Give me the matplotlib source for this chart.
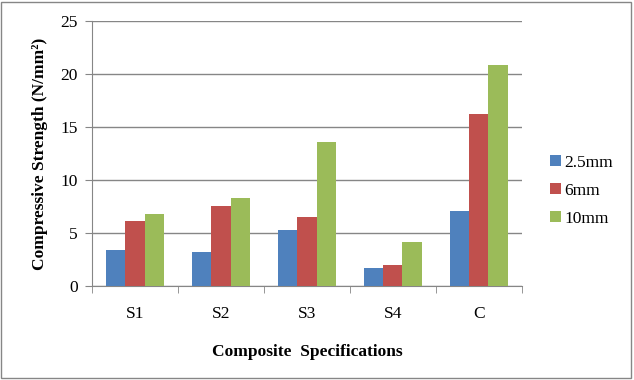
import matplotlib.pyplot as plt
import numpy as np
from matplotlib.patches import Rectangle

categories = ["S1", "S2", "S3", "S4", "C"]
series_names = ["2.5mm", "6mm", "10mm"]
v_25 = [3.4, 3.2, 5.3, 1.7, 7.1]
v_6 = [6.15, 7.55, 6.5, 2.0, 16.2]
v_10 = [6.8, 8.3, 13.6, 4.15, 20.85]
colors = ["#4F81BD", "#C0504D", "#9BBB59"]

plt.rcParams['font.family'] = ['Liberation Serif', 'DejaVu Serif']

fig = plt.figure(figsize=(6.34, 3.8), dpi=100)
ax = fig.add_axes([0.145, 0.247, 0.678, 0.698])

x = np.arange(len(categories))
w = 0.225
for i, (vals, name) in enumerate(zip([v_25, v_6, v_10], series_names)):
    ax.bar(x + (i - 1) * w, vals, w, color=colors[i], label=name, zorder=3)

ax.set_xlim(-0.5, len(categories) - 0.5)
ax.set_ylim(0, 25)
ax.set_yticks(range(0, 26, 5))
ax.set_xticks(x)
ax.set_xticklabels(categories)
ax.set_xticks(np.arange(-0.5, len(categories), 1), minor=True)
ax.tick_params(axis='x', which='major', length=0, labelsize=12.5, pad=14)
ax.tick_params(axis='x', which='minor', length=5, color='#868686', direction='out')
ax.tick_params(axis='y', length=5, color='#868686', labelsize=12.5, pad=5)

ax.grid(axis='y', color='#868686', linewidth=1, zorder=0)
for s in ['top', 'right']:
    ax.spines[s].set_visible(False)
for s in ['left', 'bottom']:
    ax.spines[s].set_color('#868686')

ax.set_ylabel("Compressive Strength (N/mm²)", fontsize=12.5, fontweight='bold', labelpad=9)
ax.set_xlabel("Composite  Specifications", fontsize=12.5, fontweight='bold', labelpad=16)

ax.legend(loc='center left', bbox_to_anchor=(1.03, 0.36), frameon=False,
          fontsize=12.5, handlelength=0.6, handleheight=0.6, handletextpad=0.2,
          labelspacing=0.7)

fig.patches.append(Rectangle((0.002, 0.004), 0.994, 0.99, transform=fig.transFigure,
                             fill=False, edgecolor='#868686', linewidth=1))

fig.savefig("out.png", dpi=100)
